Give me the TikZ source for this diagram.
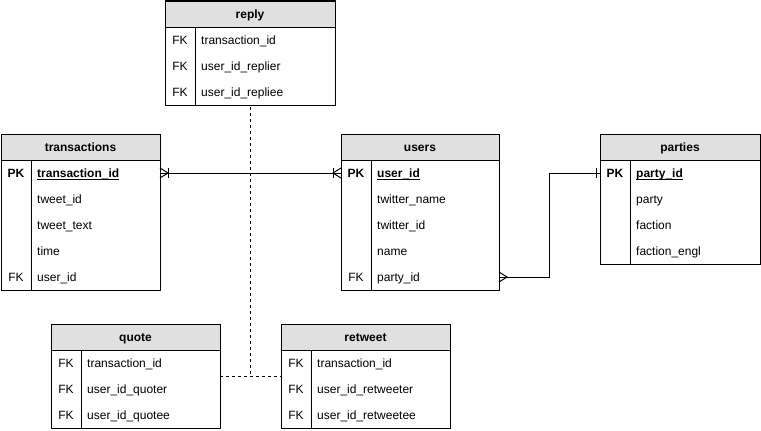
\documentclass[tikz,border=0pt]{standalone}
\usepackage{fontspec}
\setmainfont{Liberation Sans}
\usetikzlibrary{calc}
\definecolor{hdrgray}{RGB}{224,224,224}
\newcommand\ulbf[1]{\setbox0\hbox{\bfseries #1}\rlap{\rule[-2.2pt]{\wd0}{0.9pt}}\box0}
\tikzset{
  every node/.style={font=\fontsize{12pt}{14pt}\selectfont},
  tblbox/.style={draw, line width=1pt, anchor=north west, inner sep=0pt, outer sep=0pt},
  hdr/.style={draw, fill=hdrgray, line width=1pt, anchor=north west, inner sep=0pt, outer sep=0pt, minimum height=26pt},
  titlet/.style={anchor=base, inner sep=0pt, font=\fontsize{12pt}{14pt}\selectfont\bfseries},
  keyt/.style={anchor=base, inner sep=0pt},
  fldt/.style={anchor=base west, inner sep=0pt},
  ln/.style={line width=1pt},
  rel/.style={line width=1pt},
  dashrel/.style={line width=1pt, dash pattern=on 3pt off 3pt},
}
% #1 name, #2 x, #3 y, #4 width, #5 rows, #6 title, #7 rows list key/field
\newcommand\ertable[7]{%
  \node[tblbox, minimum width=#4pt, minimum height={(#5+1)*26pt}] (#1) at (#2,#3) {};
  \node[hdr, minimum width=#4pt] (#1-h) at (#2,#3) {};
  \node[titlet] (#1-t) at ({#2+#4/2},{#3+17.5}) {#6};
  \draw[ln] ({#2+30},{#3+26}) -- ({#2+30},{#3+26*(#5+1)});
  \foreach \k/\f [count=\i] in {#7} {
    \coordinate (#1-L\i) at (#2,{#3+26*\i+13});
    \coordinate (#1-R\i) at ({#2+#4},{#3+26*\i+13});
    \node[keyt] (#1-k\i) at ({#2+15},{#3+26*\i+17.5}) {\k};
    \node[fldt] (#1-f\i) at ({#2+36},{#3+26*\i+17.5}) {\f};
  }
}
\begin{document}
\begin{tikzpicture}[x=1pt,y=-1pt]
\useasboundingbox (0,0) rectangle (761,431);

\ertable{reply}{165}{1}{170}{3}{reply}{FK/transaction\_id, FK/user\_id\_replier, FK/user\_id\_repliee}
\ertable{transactions}{1}{134}{159}{5}{transactions}{{\textbf{PK}}/{\ulbf{transaction\_id}}, {}/tweet\_id, {}/tweet\_text, {}/time, FK/user\_id}
\ertable{users}{341}{134}{158}{5}{users}{{\textbf{PK}}/{\ulbf{user\_id}}, {}/twitter\_name, {}/twitter\_id, {}/name, FK/party\_id}
\ertable{parties}{600}{134}{160}{4}{parties}{{\textbf{PK}}/{\ulbf{party\_id}}, {}/party, {}/faction, {}/faction\_engl}
\ertable{quote}{51}{324}{169}{3}{quote}{FK/transaction\_id, FK/user\_id\_quoter, FK/user\_id\_quotee}
\ertable{retweet}{281}{324}{169}{3}{retweet}{FK/transaction\_id, FK/user\_id\_retweeter, FK/user\_id\_retweetee}

% transactions -- users
\draw[rel] (transactions-R1) -- (users-L1);
\draw[rel] (transactions-R1) ++(0,-5) -- ++(8,5) -- ++(-8,5);
\draw[rel] ([xshift=8pt]transactions-R1) ++(0,-5) -- ++(0,10);
\draw[rel] (users-L1) ++(0,-5) -- ++(-8,5) -- ++(8,5);
\draw[rel] ([xshift=-8pt]users-L1) ++(0,-5) -- ++(0,10);

% users -- parties
\coordinate (mid) at ($(users-R5)!0.5!(parties-L1)$);
\draw[rel] (users-R5) -| (mid) |- (parties-L1);
\draw[rel] (users-R5) ++(0,-5) -- ++(8,5) -- ++(-8,5);
\draw[rel] ([xshift=-4pt]parties-L1) ++(0,-5) -- ++(0,10);

% reply -- quote / retweet
\draw[dashrel] ([yshift=-2pt]reply.south) -- (reply.south |- quote.east);
\draw[dashrel] (quote.east) -- (retweet.west);
\end{tikzpicture}
\end{document}
